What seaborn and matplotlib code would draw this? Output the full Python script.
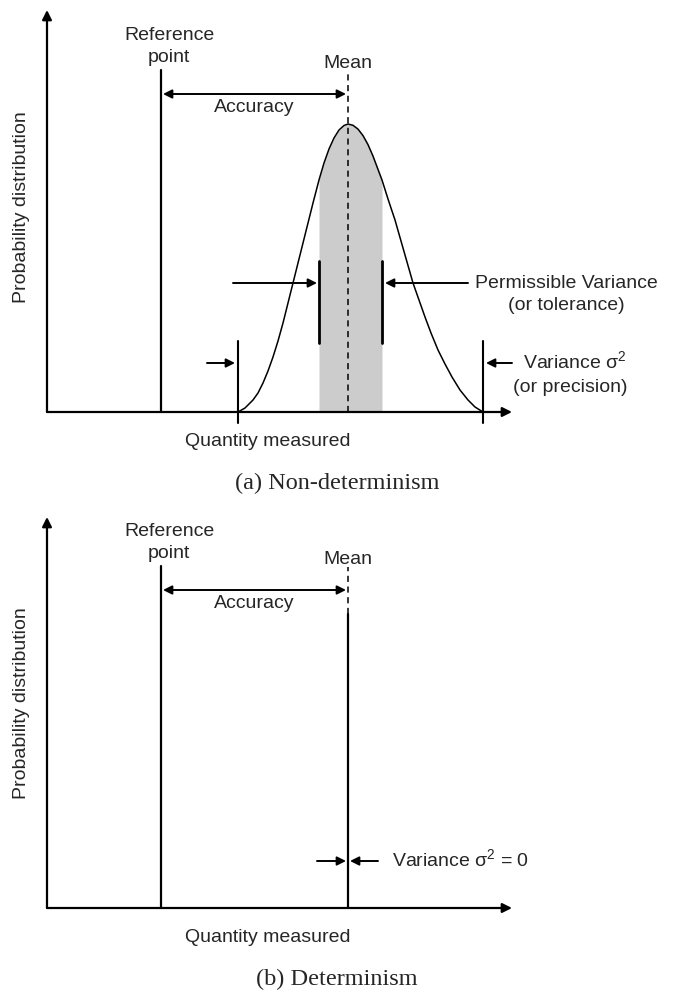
import matplotlib
matplotlib.use("Agg")
import matplotlib.pyplot as plt
import seaborn as sns

# ---------------- data (diagram units: x along quantity axis, h = height above baseline)
reference_x = 114
mean_x = 301

# Probability curve for panel (a)
curve_x = [191, 198, 206, 211, 216, 221, 226, 231, 236, 241, 246, 251, 256,
           261, 266, 272, 277, 282, 287, 292, 297, 301,
           306, 311, 316, 321, 326, 335, 341, 348, 354, 360, 366, 372, 378,
           384, 391, 398, 405, 413, 421, 428, 436]
curve_h = [0, 4, 12, 19, 29, 41, 55, 71, 89, 109, 129, 149, 169,
           189, 209, 232, 249, 263, 274, 282, 286.5, 288,
           286.7, 282.9, 276.4, 267.4, 255.9, 232, 213, 192, 171, 150, 129, 112, 95,
           79, 62, 48, 35, 22, 12, 5, 0]

tolerance_lo, tolerance_hi = 272, 335     # permissible variance band
variance_lo, variance_hi = 191, 436       # extent of the distribution
det_variance = 0                          # panel (b) variance

labels_a = {"ref": ["Reference", "point"], "mean": "Mean", "acc": "Accuracy",
            "tol": ["Permissible Variance", "(or tolerance)"],
            "var": ["Variance σ$^2$", "(or precision)"],
            "xlab": "Quantity measured", "ylab": "Probability distribution",
            "cap": "(a) Non-determinism"}
labels_b = {"ref": ["Reference", "point"], "mean": "Mean", "acc": "Accuracy",
            "var": "Variance σ$^2$ = 0",
            "xlab": "Quantity measured", "ylab": "Probability distribution",
            "cap": "(b) Determinism"}

# ---------------- style
sns.set_theme(style="white")
plt.rcParams["font.family"] = ["Liberation Sans", "DejaVu Sans"]
plt.rcParams["mathtext.fontset"] = "custom"
plt.rcParams["mathtext.rm"] = "Liberation Sans"
plt.rcParams["mathtext.it"] = "Liberation Sans"
plt.rcParams["mathtext.default"] = "regular"
FS = 14
SERIF = ["Liberation Serif", "DejaVu Serif"]

fig = plt.figure(figsize=(6.75, 9.92), dpi=100)
ax_a = fig.add_axes([0, 0.5, 1, 0.5])
ax_b = fig.add_axes([0, 0.0, 1, 0.5])
for ax in (ax_a, ax_b):
    ax.set_xlim(-47, 628)
    ax.set_ylim(-84, 412)
    ax.axis("off")


def arrow(ax, x0, y0, x1, y1, style="-|>", lw=1.4, ms=13):
    ax.annotate("", xy=(x1, y1), xytext=(x0, y0),
                arrowprops=dict(arrowstyle=style, lw=lw, color="black",
                                mutation_scale=ms, shrinkA=0, shrinkB=0))


def axes_frame(ax, ytop, lab):
    arrow(ax, 0, 0, 0, ytop, lw=1.6, ms=14)
    arrow(ax, 0, 0, 465, 0, lw=1.6, ms=14)
    ax.text(-25, 205, lab["ylab"], rotation=90, ha="center", va="center", fontsize=FS)
    ax.text(221, -30, lab["xlab"], ha="center", va="center", fontsize=FS)
    ax.text(290, -71, lab["cap"], ha="center", va="center", fontsize=17.5, family=SERIF)
    # reference point
    ax.plot([reference_x, reference_x], [0, 342], color="black", lw=1.6)
    ax.text(reference_x + 8, 377, lab["ref"][0], ha="center", va="center", fontsize=FS)
    ax.text(reference_x + 8, 354, lab["ref"][1], ha="center", va="center", fontsize=FS)
    ax.text(mean_x, 349, lab["mean"], ha="center", va="center", fontsize=FS)
    # accuracy
    arrow(ax, reference_x + 2, 318, mean_x - 2, 318, style="<|-|>", lw=1.4)
    ax.text((reference_x + mean_x) / 2, 304, lab["acc"], ha="center",
            va="center", fontsize=FS)


# ---------------- panel (a)
axes_frame(ax_a, 402, labels_a)
sel = [i for i, x in enumerate(curve_x) if tolerance_lo <= x <= tolerance_hi]
ax_a.fill_between([curve_x[i] for i in sel], 0, [curve_h[i] for i in sel],
                  color="#cccccc", lw=0, zorder=1)
sns.lineplot(x=curve_x, y=curve_h, ax=ax_a, color="black", lw=1.1,
             sort=False, estimator=None, zorder=3)
ax_a.plot([mean_x, mean_x], [0, 342], color="black", lw=1.1,
          dashes=(4, 3), zorder=4)
# permissible variance bars and arrows
for xb in (tolerance_lo, tolerance_hi):
    ax_a.plot([xb, xb], [69, 151], color="black", lw=2.0, zorder=4)
arrow(ax_a, 186, 129, tolerance_lo - 2, 129)
arrow(ax_a, 421, 129, tolerance_hi + 3, 129)
ax_a.text(519, 129, labels_a["tol"][0], ha="center", va="center", fontsize=FS)
ax_a.text(519, 107, labels_a["tol"][1], ha="center", va="center", fontsize=FS)
# variance bars and arrows
for xb in (variance_lo, variance_hi):
    ax_a.plot([xb, xb], [-11, 71], color="black", lw=1.5, zorder=4)
arrow(ax_a, 160, 49, variance_lo - 3, 49)
arrow(ax_a, 465, 49, variance_hi + 3, 49)
ax_a.text(528, 51, labels_a["var"][0], ha="center", va="center", fontsize=FS)
ax_a.text(523, 24, labels_a["var"][1], ha="center", va="center", fontsize=FS)

# ---------------- panel (b)
axes_frame(ax_b, 391, labels_b)
ax_b.plot([mean_x, mean_x], [0, 294], color="black", lw=1.6)
ax_b.plot([mean_x, mean_x], [294, 341], color="black", lw=1.1, dashes=(4, 3))
arrow(ax_b, 270, 47, mean_x - 2 - det_variance, 47)
arrow(ax_b, 331, 47, mean_x + 2 + det_variance, 47)
ax_b.text(345, 49, labels_b["var"], ha="left", va="center", fontsize=FS)

fig.savefig("out.png", dpi=100)
